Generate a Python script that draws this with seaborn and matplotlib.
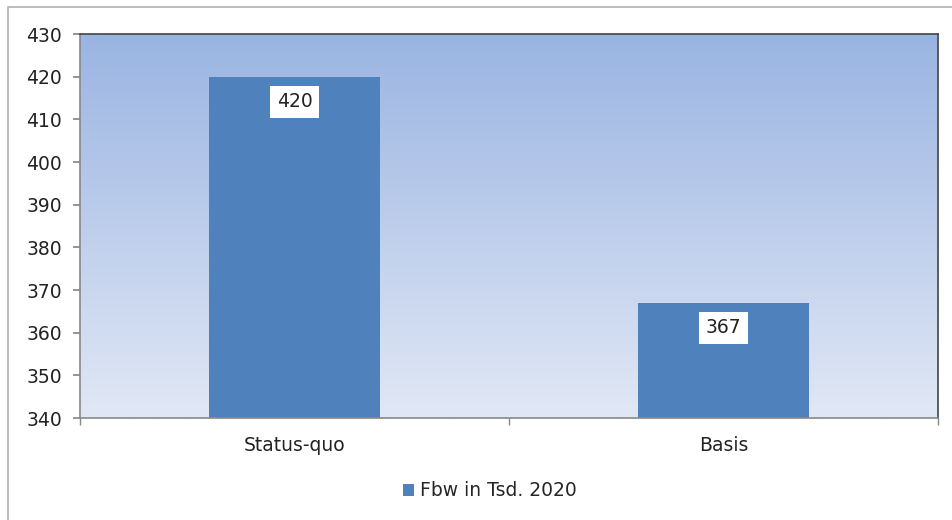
"""Fbw in Tsd. 2020 - Status-quo vs. Basis."""

import matplotlib
matplotlib.use('Agg')
import matplotlib.pyplot as plt
import numpy as np
import pandas as pd
import seaborn as sns
from matplotlib.colors import LinearSegmentedColormap
from matplotlib.patches import Rectangle

categories = ['Status-quo', 'Basis']
values = [420, 367]
series_name = 'Fbw in Tsd. 2020'
y_ticks = [340, 350, 360, 370, 380, 390, 400, 410, 420, 430]

BAR_COLOR = '#4f81bd'
FS = 13.5

sns.set_theme(style='white')
plt.rcParams['font.family'] = ['DejaVu Sans']

df = pd.DataFrame({'scenario': categories, 'value': values, 'series': series_name})

fig = plt.figure(figsize=(9.53, 5.2), dpi=100)
ax = fig.add_axes([80 / 953, 1 - 418 / 520, 858 / 953, 384 / 520])

# outer chart frame (cut off at right/bottom like the screenshot)
fig.patches.append(Rectangle((8 / 953, -0.1), 1.2, 1 - 7 / 520 + 0.1,
                             transform=fig.transFigure, fill=False,
                             edgecolor='#b0b0b0', linewidth=1.2))

sns.barplot(data=df, x='scenario', y='value', hue='series', palette=[BAR_COLOR],
            width=0.4, ax=ax, zorder=2, saturation=1, linewidth=0)

ax.set_xlim(-0.5, 1.5)
ax.set_ylim(y_ticks[0], y_ticks[-1])
ax.set_yticks(y_ticks)

# vertical gradient background
grad = LinearSegmentedColormap.from_list('bg', ['#e1e8f5', '#9ab4e2'])
ax.imshow(np.linspace(0, 1, 256).reshape(-1, 1), cmap=grad, origin='lower',
          extent=[-0.5, 1.5, y_ticks[0], y_ticks[-1]], aspect='auto', zorder=0)

for p, v in zip(ax.patches, values):
    ax.annotate(f'{v}', (p.get_x() + p.get_width() / 2, p.get_height()),
                xytext=(0, -25), textcoords='offset pixels',
                ha='center', va='center', fontsize=FS, color='#222222',
                bbox=dict(boxstyle='square,pad=0.35', fc='white', ec='none'))

ax.set_xlabel('')
ax.set_ylabel('')
ax.tick_params(axis='y', left=True, length=5, color='#888888', labelsize=FS,
               labelcolor='#222222', pad=8)
ax.tick_params(axis='x', bottom=False, labelsize=FS, labelcolor='#222222', pad=7)
# category boundary ticks on x axis
ax.set_xticks([-0.5, 0.5, 1.5], minor=True)
ax.tick_params(axis='x', which='minor', bottom=True, length=5, color='#888888')

for side in ['top', 'right']:
    ax.spines[side].set_color('#444444')
for side in ['left', 'bottom']:
    ax.spines[side].set_color('#888888')
for s in ax.spines.values():
    s.set_linewidth(1.2)

ax.legend(loc='center', bbox_to_anchor=(490 / 953, 1 - 491 / 520),
          bbox_transform=fig.transFigure, frameon=False, fontsize=FS,
          handlelength=0.6, handleheight=0.6, handletextpad=0.3)

plt.savefig('out.png', dpi=100)
